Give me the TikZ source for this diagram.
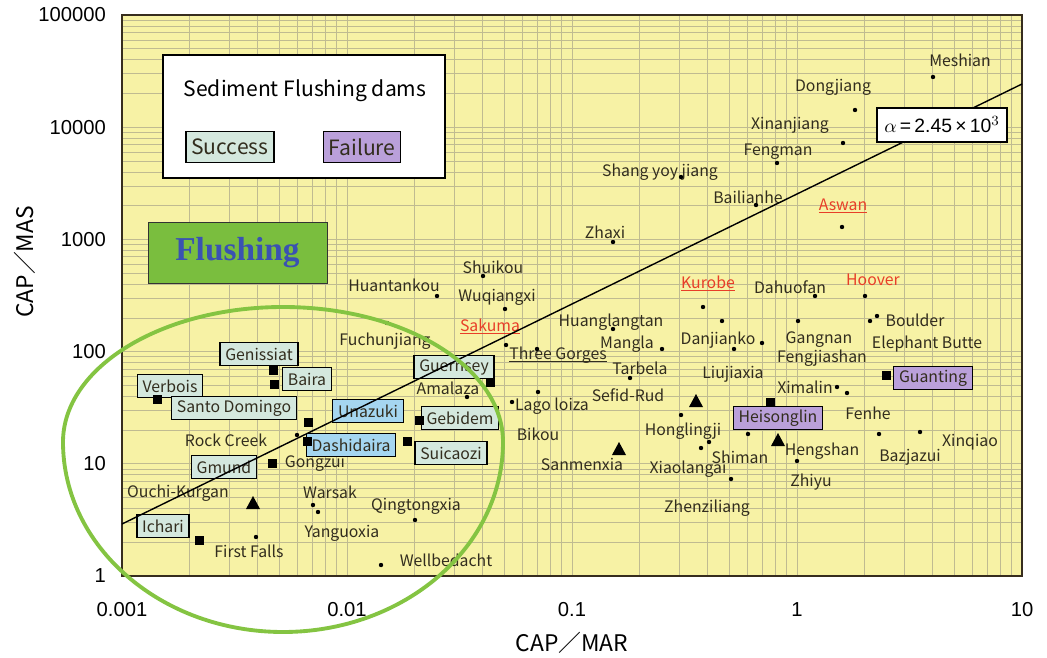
\documentclass[tikz,border=0pt]{standalone}
\usepackage{fontspec}
\setmainfont{Liberation Sans}
\newfontfamily\jpfont{Noto Sans CJK JP}
\newfontfamily\titlefont{Liberation Serif}
\usetikzlibrary{positioning}
\definecolor{plotbg}{RGB}{247,242,165}
\definecolor{gridcol}{RGB}{192,187,145}
\definecolor{framecol}{RGB}{55,45,30}
\definecolor{labtext}{RGB}{50,45,30}
\definecolor{okfill}{RGB}{212,232,222}
\definecolor{badfill}{RGB}{186,160,218}
\definecolor{blufill}{RGB}{165,214,240}
\definecolor{flushgreen}{RGB}{122,190,62}
\definecolor{flushblue}{RGB}{58,82,178}
\definecolor{ringgreen}{RGB}{132,196,66}
\definecolor{redlab}{RGB}{232,62,40}
\newcommand{\uname}[1]{\underline{\smash{#1}}}

\begin{document}
\begin{tikzpicture}[x=0.02cm,y=-0.02cm,
	gridline/.style={draw=gridcol,line width=0.35pt},
	dam/.style={font=\jpfont\fontsize{9}{10}\selectfont,inner sep=1pt,text=labtext},
	redname/.style={dam,text=redlab},
	okbox/.style={dam,draw=black,line width=0.8pt,fill=okfill,inner xsep=3pt,minimum height=0.46cm},
	badbox/.style={okbox,fill=badfill},
	blubox/.style={okbox,fill=blufill},
	tick/.style={font=\fontsize{11.5}{12}\selectfont}]
	
	\useasboundingbox (0,0) rectangle (1047,658);
	
	% plot area and log grid
	\fill[plotbg] (122,15) rectangle (1022,576);
	\foreach \d in {0,...,3}
	\foreach \k in {2,...,9}
	\draw[gridline] ({122+225*(\d+log10(\k))},15) -- ++(0,561);
	\foreach \d in {0,...,4}
	\foreach \k in {2,...,9}
	\draw[gridline] (122,{576-112.2*(\d+log10(\k))}) -- ++(900,0);
	\foreach \d in {1,...,3}
	\draw[gridline] ({122+225*\d},15) -- ++(0,561);
	\foreach \d in {1,...,4}
	\draw[gridline] (122,{576-112.2*\d}) -- ++(900,0);
	\draw[framecol,line width=1.3pt] (122,15) rectangle (1022,576);
	
	% axes
	\foreach \v [count=\i from 0] in {0.001,0.01,0.1,1,10}
	\node[tick] (xt\i) at ({122+225*\i},610) {\v};
	\foreach \v [count=\i from 0] in {1,10,100,1000,10000,100000}
	\node[tick,anchor=east] (yt\i) at (112,{576-112.2*\i}) {\v};
	\node[font=\jpfont\fontsize{13}{14}\selectfont] (xlab) at (572,643) {CAP／MAR};
	\node[font=\jpfont\fontsize{13}{14}\selectfont,rotate=90] (ylab) at (25,262) {CAP／MAS};
	
	% legend
	\node[draw=black,line width=0.8pt,fill=white,minimum width=5.64cm,minimum height=2.46cm] (legend) at (304,116.5) {};
	\node[font=\jpfont\fontsize{12}{13}\selectfont] (legtitle) at (305,91) {Sediment Flushing dams};
	\node[okbox,font=\jpfont\fontsize{12}{13}\selectfont,minimum height=0.62cm] (legok) at (230,147) {Success};
	\node[badbox,font=\jpfont\fontsize{12}{13}\selectfont,minimum height=0.62cm] (legbad) at (362,147) {Failure};
	
	\node[draw=black!80,fill=flushgreen,minimum width=3.58cm,minimum height=1.22cm,text=flushblue,font=\titlefont\bfseries\fontsize{19}{20}\selectfont] (flushing) at (237.5,252.5) {Flushing};
	
	% dam names
	\foreach \n/\x/\y/\t in {
		meshian/960/60/Meshian, dongjiang/833/87/Dongjiang, xinanjiang/790/125/Xinanjiang,
		fengman/778/152/Fengman, shangyoy/660/172/Shang yoy jiang, bailianhe/748/197/Bailianhe,
		zhaxi/605/232/Zhaxi, shuikou/493/267/Shuikou, huantankou/394/285/Huantankou,
		wuqiangxi/497/297/Wuqiangxi, dahuofan/790/287/Dahuofan, boulder/915/320/Boulder,
		huanglangtan/611/322/Huanglangtan, fuchunjiang/385/341/Fuchunjiang, mangla/627/344/Mangla,
		danjianko/718/340/Danjianko, gangnan/819/340/Gangnan, fengjiashan/822/358/Fengjiashan,
		elephant/927/344/Elephant Butte, tarbela/640/368/Tarbela, liujiaxia/733/374/Liujiaxia,
		ximalin/805/387/Ximalin, fenhe/868/413/Fenhe, sefidrud/628/395/Sefid-Rud,
		amalaza/448/388/Amalaza, lagoloiza/552/406/Lago loiza, honglingji/683/431/Honglingji,
		bikou/538/434/Bikou, hengshan/822/451/Hengshan, bazjazui/910/457/Bazjazui,
		xinqiao/970/442/Xinqiao, shiman/740/457/Shiman, sanmenxia/582/464/Sanmenxia,
		xiaolangai/688/469/Xiaolangai, zhiyu/811/482/Zhiyu, zhenziliang/707/508/Zhenziliang,
		qingtongxia/416/506/Qingtongxia, wellbedacht/446/560/Wellbedacht, rockcreek/226/440/Rock Creek,
		gongzui/315/463/Gongzui, ouchi/178/493/Ouchi-Kurgan, warsak/330/492/Warsak,
		yanguoxia/342/533/Yanguoxia, firstfalls/249/551/First Falls}
	\node[dam] (\n) at (\x,\y) {\t};
	\node[redname] (aswan) at (843,212) {\uname{Aswan}};
	\node[redname] (kurobe) at (708,290) {\uname{Kurobe}};
	\node[redname] (hoover) at (873,280) {Hoover};
	\node[redname] (sakuma) at (490,333) {\uname{Sakuma}};
	\node[dam] (threegorges) at (558,361) {\uname{Three Gorges}};
	
	% boxed dams
	\node[okbox] (genissiat) at (259,354) {Genissiat};
	\node[okbox] (baira) at (307,379) {Baira};
	\node[okbox] (verbois) at (170,386) {Verbois};
	\node[okbox] (santodomingo) at (234,408) {Santo Domingo};
	\node[blubox] (unazuki) at (368,411) {Unazuki};
	\node[okbox] (guernsey) at (454,367) {Guernsey};
	\node[okbox] (gebidem) at (460,418) {Gebidem};
	\node[blubox] (dashidaira) at (351,445) {Dashidaira};
	\node[okbox] (suicaozi) at (451,453) {Suicaozi};
	\node[okbox] (gmund) at (224,467) {Gmund};
	\node[okbox] (ichari) at (163,526) {Ichari};
	\node[badbox] (guanting) at (933,378) {Guanting};
	\node[badbox] (heisonglin) at (778,418) {Heisonglin};
	
	% markers
	\foreach \x/\y in {933/77, 855/110, 843/143, 777/163, 681/177, 756/205, 842/227, 613/242,
		483/276, 437/296, 505/309, 703/307, 815/296, 865/296, 870/321, 877/316, 798/321, 722/321,
		613/329, 506/345, 387/323, 662/349, 734/349, 762/343, 537/349, 630/378, 837/387, 847/393,
		467/397, 538/392, 512/402, 681/415, 748/434, 879/434, 920/432, 709/442, 701/448, 731/479,
		797/461, 415/520, 381/565, 297/435, 313/505, 318/512, 256/537}
	\fill[black] (\x,\y) circle[radius=2.2];
	\foreach \x/\y in {886/375, 770/402, 273/370, 274/384, 157/399, 308/422, 490/382, 419/420,
		307/441, 407/441, 272/463, 199/540}
	\fill[black] ({\x-4.5},{\y-4.5}) rectangle ({\x+4.5},{\y+4.5});
	\foreach \x/\y in {696/401, 778/440, 619/449, 253/503}
	\fill[black] ({\x},{\y-7}) -- ({\x+7},{\y+6}) -- ({\x-7},{\y+6}) -- cycle;
	
	% alpha line
	\coordinate (fitlo) at (122,524);
	\coordinate (fithi) at (1022,84);
	\draw[line width=0.8pt] (fitlo) -- (fithi);
	\node[draw=black,line width=0.8pt,fill=white,minimum width=2.6cm,minimum height=0.68cm,font=\fontsize{11}{12}\selectfont] (alpha) at (942,125) {$\alpha$\,=\,2.45\,×\,10$^{3}$};
	
	% flushing zone
	\draw[ringgreen,line width=2.2pt] (63,442) arc[start angle=180,end angle=360,x radius=220,y radius=135]
	arc[start angle=0,end angle=180,x radius=220,y radius=190];
\end{tikzpicture}
\end{document}
